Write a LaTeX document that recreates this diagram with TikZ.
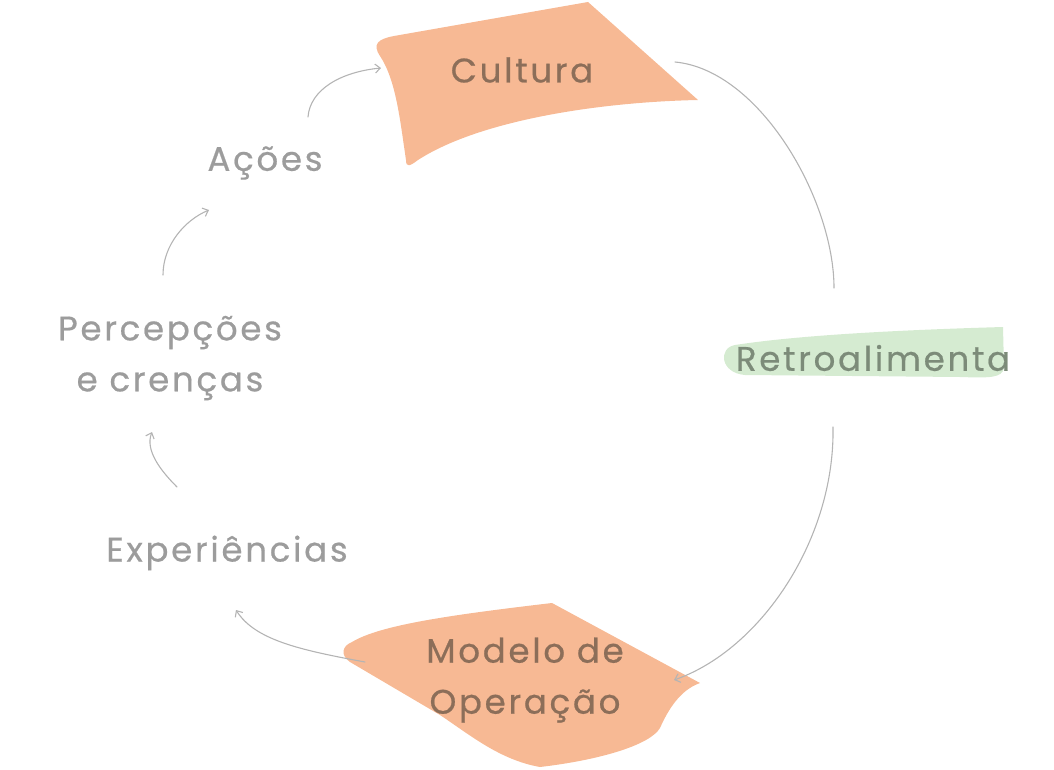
\documentclass[tikz,border=0pt]{standalone}
\usepackage{fontspec}
\setmainfont{Poppins}[LetterSpace=8,FakeBold=0.6]
\usetikzlibrary{arrows.meta}
\definecolor{blobor}{HTML}{F7B994}
\definecolor{blobgr}{HTML}{D5EBD1}
\definecolor{txbrown}{HTML}{8C6E59}
\definecolor{txgreen}{HTML}{7C8B79}
\definecolor{txgray}{HTML}{9C9C9C}
\definecolor{pencil}{HTML}{B4B4B4}
\tikzset{
  lbl/.style={font=\fontsize{34}{51}\selectfont, inner sep=0pt},
  main/.style={lbl, text=txbrown},
  side/.style={lbl, text=txgray, align=center},
  link/.style={draw=pencil, line width=1.1pt, line cap=round},
  head/.style={-{Straight Barb[length=5pt,width=9pt]}},
}
\begin{document}
\begin{tikzpicture}[x=1pt,y=-1pt]
\useasboundingbox (0,0) rectangle (1054,770);
% blobs
\fill[blobor] (394,36) -- (588,2) -- (698,100)
  .. controls (600,102) and (480,120) .. (418,160)
  .. controls (410,166) and (406,168) .. (406,160)
  .. controls (400,120) and (396,80) .. (380,56)
  .. controls (372,44) and (378,39) .. cycle;
\fill[blobor] (352,642) .. controls (380,625) and (450,615) .. (552,603) -- (700,683)
  .. controls (680,690) and (668,710) .. (660,728)
  .. controls (650,745) and (600,760) .. (540,767)
  .. controls (500,760) and (470,735) .. (440,715) -- (350,662)
  .. controls (340,655) and (342,646) .. cycle;
\fill[blobgr] (735,345) .. controls (800,335) and (900,330) .. (1003,327) -- (1004,368)
  .. controls (1002,378) and (990,378) .. (960,377) -- (745,375)
  .. controls (720,373) and (718,348) .. cycle;
% labels
\node[main] (cult) at (522,70) {Cultura};
\node[main, align=center] (mod) at (525,680) {Modelo de\\Operação};
\node[lbl, text=txgreen] (retro) at (873,358) {Retroalimenta};
\node[side] (acoes) at (265,163) {Ações};
\node[side] (perc) at (170,358) {Percepções\\e crenças};
\node[side] (exp) at (227,553) {Experiências};
% connector end points
\coordinate (a1) at (308,117); \coordinate (a2) at (381,68);
\coordinate (p1) at (163,275); \coordinate (p2) at (209,210);
\coordinate (e1) at (177,487); \coordinate (e2) at (152,432);
\coordinate (m1) at (365,662); \coordinate (m2) at (236,610);
\coordinate (c1) at (675,62); \coordinate (c2) at (834,288);
\coordinate (r1) at (833,427); \coordinate (r2) at (674,680);
% connectors
\draw[link, head] (a1) .. controls (310,90) and (340,72) .. (a2);
\draw[link, head] (p1) .. controls (163,245) and (185,220) .. (p2);
\draw[link, head] (e1) .. controls (160,470) and (145,450) .. (e2);
\draw[link, head] (m1) .. controls (300,650) and (255,640) .. (m2);
\draw[link] (c1) .. controls (760,70) and (834,200) .. (c2);
\draw[link, head] (r1) .. controls (835,540) and (760,650) .. (r2);
\end{tikzpicture}
\end{document}
